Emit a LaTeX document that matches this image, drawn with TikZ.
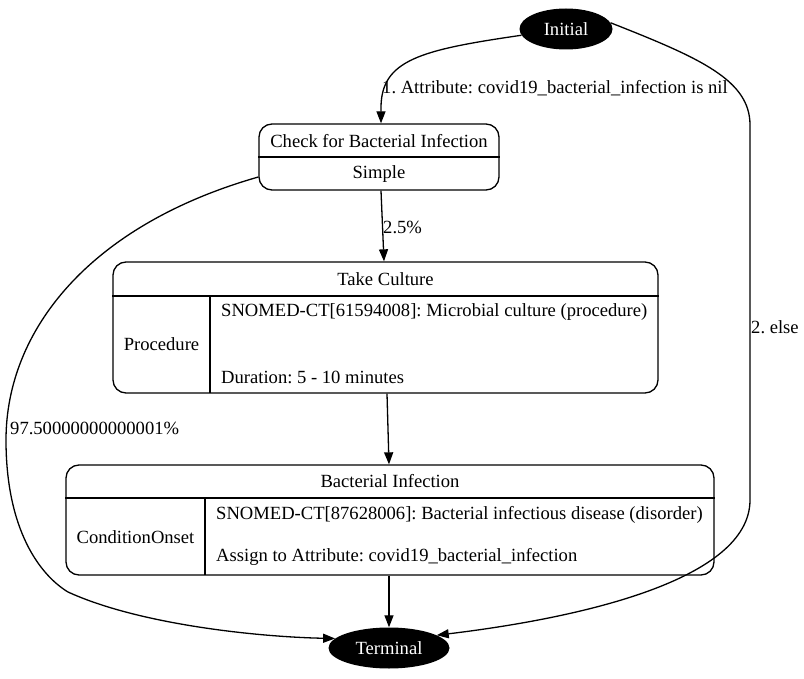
\documentclass[tikz,border=0pt]{standalone}
\usepackage{fontspec}
\setmainfont{Liberation Serif}
\usetikzlibrary{arrows.meta,shapes.geometric}
\frenchspacing
\begin{document}
\begin{tikzpicture}[x=1pt,y=-1pt,
  every node/.style={font=\fontsize{18.6}{22}\selectfont, inner sep=0pt},
  term/.style={ellipse, fill=black, text=white, minimum height=41pt},
  state/.style={draw, rounded corners=13pt, line width=1.3pt},
  arr/.style={line width=1.3pt, -{Triangle[length=12pt,width=9pt]}},
  lbl/.style={anchor=west}
]
\useasboundingbox (0,0) rectangle (804,679);
% terminals
\node[term, minimum width=93pt] (init) at (566,29) {Initial};
\node[term, minimum width=121pt] (term) at (389,648) {Terminal};
% Check node
\node[state, minimum width=240pt, minimum height=66pt] (check) at (379,157) {};
\draw[line width=1.3pt] (check.west |- 0,157) -- (check.east |- 0,157);
\node (checkT) at (379,141) {Check for Bacterial Infection};
\node (checkS) at (379,174) {Simple};
% Take Culture
\node[state, minimum width=545pt, minimum height=131pt] (take) at (385.5,327.5) {};
\draw[line width=1.3pt] (take.west |- 0,296) -- (take.east |- 0,296);
\draw[line width=1.3pt] (210,296) -- (210,393);
\node (takeT) at (385.5,279) {Take Culture};
\node (takeP) at (161.5,344) {Procedure};
\node[anchor=west] (takeA) at (221,312) {SNOMED-CT[61594008]: Microbial culture (procedure)};
\node[anchor=west] (takeB) at (221,377) {Duration: 5 - 10 minutes};
% Bacterial Infection
\node[state, minimum width=648pt, minimum height=110pt] (bact) at (390,520) {};
\draw[line width=1.3pt] (bact.west |- 0,498) -- (bact.east |- 0,498);
\draw[line width=1.3pt] (205,498) -- (205,575);
\node (bactT) at (390,481) {Bacterial Infection};
\node (bactP) at (135.5,537) {ConditionOnset};
\node[anchor=west] (bactA) at (216,515) {SNOMED-CT[87628006]: Bacterial infectious disease (disorder)};
\node[anchor=west] (bactB) at (216,557) {Assign to Attribute: covid19\_bacterial\_infection};
% edges
\draw[arr] (init.188) .. controls (420,50) and (381,60) .. (381,108) -- (check.north -| 381,0);
\node[lbl] (l1) at (382,88) {1. Attribute: covid19\_bacterial\_infection is nil};
\draw[arr] (init.8) .. controls (700,58) and (750,80) .. (750,125) -- (750,500) .. controls (750,580) and (580,618) .. (term.15);
\node[lbl] (l2) at (751,327) {2. else};
\draw[arr] (check.south -| 381,0) -- (take.north -| 384,0);
\node[lbl] (l3) at (383,227) {2.5\%};
\draw[arr] (check.west |- 0,177) .. controls (90,225) and (6,330) .. (6,440) .. controls (6,530) and (40,575) .. (68,592) .. controls (140,625) and (260,637) .. (term.170);
\node[lbl] (l4) at (10,428) {97.50000000000001\%};
\draw[arr] (take.south -| 387,0) -- (bact.north -| 389,0);
\draw[arr] (bact.south -| 389,0) -- (term.north);
\end{tikzpicture}
\end{document}
